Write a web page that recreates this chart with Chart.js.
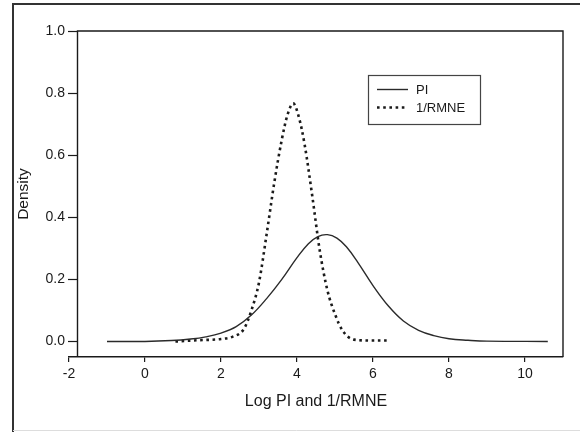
<!DOCTYPE html>
<html>
<head>
<meta charset="utf-8">
<script src="https://cdn.jsdelivr.net/npm/chart.js@4.4.1/dist/chart.umd.min.js"></script>
<style>
  html, body { margin: 0; padding: 0; background: #ffffff; }
  #wrap { position: relative; width: 580px; height: 432px; }
  canvas { display: block; }
</style>
</head>
<body>
<div id="wrap"><canvas id="c" width="580" height="432"></canvas></div>
<script>
// ---- Data ----
const seriesLabels = ["PI", "1/RMNE"];

const piX = [-1.0, 0.0, 0.7, 1.2, 1.6, 2.0, 2.4, 2.8, 3.2, 3.6, 4.0, 4.3, 4.55, 4.8, 5.05, 5.3, 5.6, 6.0, 6.4, 6.8, 7.2, 7.6, 8.0, 8.5, 9.0, 10.6];
const piY = [0, 0, 0.003, 0.008, 0.015, 0.027, 0.048, 0.085, 0.138, 0.200, 0.270, 0.315, 0.338, 0.344, 0.333, 0.305, 0.255, 0.180, 0.115, 0.066, 0.036, 0.019, 0.009, 0.004, 0.001, 0];

const rmX = [0.8, 1.4, 2.0, 2.3, 2.6, 2.8, 3.0, 3.2, 3.4, 3.6, 3.75, 3.9, 4.05, 4.2, 4.4, 4.6, 4.8, 5.0, 5.2, 5.5, 6.0, 6.45];
const rmY = [0, 0.004, 0.008, 0.015, 0.040, 0.100, 0.190, 0.345, 0.510, 0.650, 0.730, 0.767, 0.722, 0.635, 0.470, 0.292, 0.165, 0.088, 0.035, 0.006, 0.003, 0.003];

const xTicks = [-2, 0, 2, 4, 6, 8, 10];
const yTicks = [0.0, 0.2, 0.4, 0.6, 0.8, 1.0];

const xTitle = "Log PI and 1/RMNE";
const yTitle = "Density";

const toPoints = (xs, ys) => xs.map((x, i) => ({ x: x, y: ys[i] }));

const INK = "#1a1a1a";
const FONT = "'Liberation Sans', Arial, Helvetica, sans-serif";

// ---- Frame / axis / legend plugin ----
const framePlugin = {
  id: "framePlugin",
  afterDraw(chart) {
    const ctx = chart.ctx;
    const a = chart.chartArea;
    const ys = chart.scales.y;
    const axisX = a.left + 8.5;
    ctx.save();
    // outer image frame
    ctx.strokeStyle = "#333333";
    ctx.lineWidth = 2;
    ctx.beginPath();
    ctx.moveTo(13, 432);
    ctx.lineTo(13, 4);
    ctx.lineTo(580, 4);
    ctx.stroke();
    ctx.strokeStyle = "#dddddd";
    ctx.lineWidth = 1;
    ctx.beginPath();
    ctx.moveTo(13, 430.5);
    ctx.lineTo(580, 430.5);
    ctx.stroke();

    // plot frame (left axis, top, right)
    ctx.strokeStyle = INK;
    ctx.lineWidth = 1.4;
    ctx.beginPath();
    ctx.moveTo(axisX, a.bottom);
    ctx.lineTo(axisX, a.top);
    ctx.lineTo(a.right, a.top);
    ctx.lineTo(a.right, a.bottom);
    ctx.stroke();

    // y tick marks
    ctx.lineWidth = 1.2;
    yTicks.forEach(v => {
      const py = Math.round(ys.getPixelForValue(v)) + 0.5;
      ctx.beginPath();
      ctx.moveTo(a.left - 1, py);
      ctx.lineTo(axisX, py);
      ctx.stroke();
    });

    // legend
    const bx = 368, by = 75, bw = 112, bh = 49;
    ctx.strokeStyle = "#444444";
    ctx.lineWidth = 1.2;
    ctx.strokeRect(bx + 0.5, by + 0.5, bw, bh);
    const rows = [89.5, 107.5];
    chart.data.datasets.forEach((ds, i) => {
      const ry = rows[i];
      ctx.strokeStyle = ds.borderColor;
      ctx.lineWidth = ds.borderWidth;
      ctx.setLineDash(ds.borderDash || []);
      ctx.lineCap = "butt";
      ctx.beginPath();
      ctx.moveTo(377, ry);
      ctx.lineTo(408, ry);
      ctx.stroke();
      ctx.setLineDash([]);
      ctx.fillStyle = INK;
      ctx.font = "13px " + FONT;
      ctx.textBaseline = "middle";
      ctx.textAlign = "left";
      ctx.fillText(ds.label, 416, ry + 0.5);
    });
    ctx.restore();
  }
};

new Chart(document.getElementById("c"), {
  type: "line",
  data: {
    datasets: [
      {
        label: seriesLabels[0],
        data: toPoints(piX, piY),
        borderColor: "#2a2a2a",
        borderWidth: 1.4,
        pointRadius: 0,
        fill: false,
        tension: 0.4
      },
      {
        label: seriesLabels[1],
        data: toPoints(rmX, rmY),
        borderColor: "#1a1a1a",
        borderWidth: 2.6,
        borderDash: [2.6, 3.6],
        borderCapStyle: "butt",
        pointRadius: 0,
        fill: false,
        cubicInterpolationMode: "monotone"
      }
    ]
  },
  options: {
    responsive: false,
    animation: false,
    events: [],
    layout: { padding: { top: 31, right: 17, bottom: 0, left: 0 } },
    plugins: {
      legend: { display: false },
      tooltip: { enabled: false },
      title: { display: false }
    },
    scales: {
      x: {
        type: "linear",
        min: -2,
        max: 11,
        afterFit(s) { s.height = 75; },
        afterBuildTicks(s) { s.ticks = xTicks.map(v => ({ value: v })); },
        ticks: {
          color: INK,
          font: { family: FONT, size: 14 },
          padding: 4,
          callback: v => String(v)
        },
        grid: {
          display: true,
          drawOnChartArea: false,
          drawTicks: true,
          tickLength: 5,
          color: INK,
          lineWidth: 1.2
        },
        border: { display: true, color: INK, width: 1.4 },
        title: {
          display: true,
          text: xTitle,
          color: INK,
          font: { family: FONT, size: 16 },
          padding: { top: 0, bottom: 21 }
        }
      },
      y: {
        type: "linear",
        min: -0.05,
        max: 1.0,
        afterFit(s) { s.width = 69; },
        afterBuildTicks(s) { s.ticks = yTicks.map(v => ({ value: v })); },
        ticks: {
          color: INK,
          font: { family: FONT, size: 14 },
          padding: 4,
          callback: v => Number(v).toFixed(1)
        },
        grid: { display: false, drawTicks: false },
        border: { display: false },
        title: {
          display: true,
          text: yTitle,
          color: INK,
          font: { family: FONT, size: 15.5 },
          padding: { top: 14, bottom: 0 }
        }
      }
    }
  },
  plugins: [framePlugin]
});
</script>
</body>
</html>
